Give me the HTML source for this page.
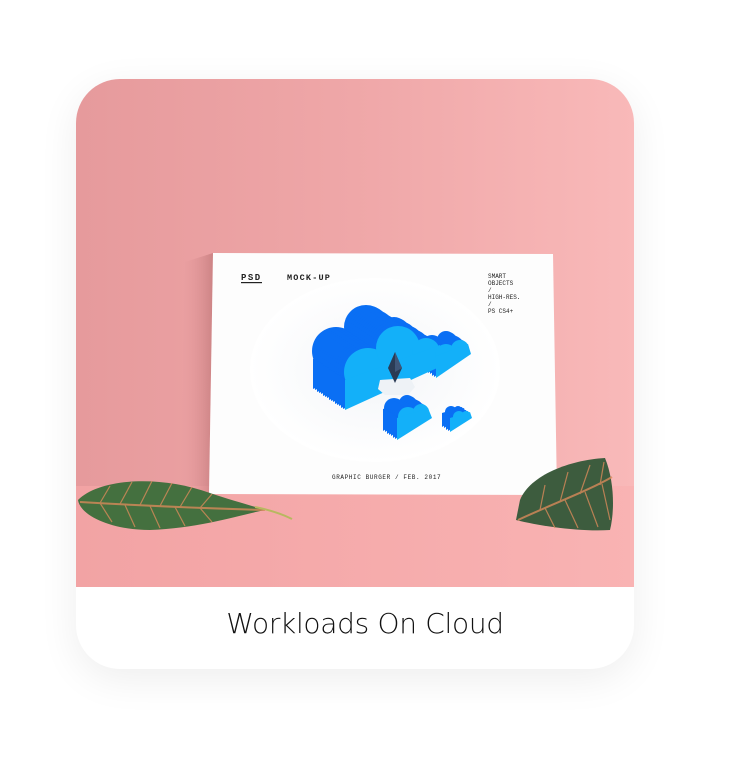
<!DOCTYPE html>
<html><head><meta charset="utf-8"><style>
html,body{margin:0;padding:0;background:#fff;width:751px;height:783px;overflow:hidden}
.card{position:absolute;left:76px;top:79px;width:558px;height:590px;border-radius:44px;background:#fff;overflow:hidden;box-shadow:0 10px 40px rgba(0,0,0,0.07)}
.cap{position:absolute;left:10px;top:504px;width:558px;height:82px;text-align:center;font:28px/82px "DejaVu Sans","Liberation Sans",sans-serif;font-weight:200;color:#111;letter-spacing:-0.3px}
</style></head><body>
<div class="card">
<svg width="558" height="508" viewBox="76 79 558 508" style="position:absolute;left:0;top:0">
<defs>
<linearGradient id="wall" x1="0" x2="1"><stop offset="0" stop-color="#e69a9c"/><stop offset="0.5" stop-color="#efa7a8"/><stop offset="1" stop-color="#f9b9b9"/></linearGradient>
<linearGradient id="floor" x1="0" x2="1"><stop offset="0" stop-color="#f2a3a4"/><stop offset="1" stop-color="#f9b3b3"/></linearGradient>
<radialGradient id="glow" cx="0.5" cy="0.5" r="0.5"><stop offset="0" stop-color="#f3f5f8"/><stop offset="1" stop-color="#ffffff"/></radialGradient>
<linearGradient id="sh" x1="0" x2="1"><stop offset="0" stop-color="#e69a9c" stop-opacity="0"/><stop offset="1" stop-color="#b87072" stop-opacity="0.6"/></linearGradient>
<g id="big"><circle cx="368" cy="372" r="24"/><circle cx="398" cy="348" r="22"/><circle cx="426" cy="352" r="14"/><polygon points="345,410 345,380 440,345 446,364"/></g>
<g id="med"><circle cx="446" cy="355" r="11"/><circle cx="460" cy="349" r="9"/><polygon points="436,378 436,356 468,344 471,354"/></g>
<g id="s1"><circle cx="408" cy="417" r="10"/><circle cx="421" cy="412" r="8"/><polygon points="397,440 397,418 428,408 432,418"/></g>
<g id="s2"><circle cx="459" cy="417" r="6"/><circle cx="466" cy="415" r="4"/><polygon points="450,432 450,418 470,412 472,418"/></g>
</defs>
<rect x="76" y="79" width="558" height="408" fill="url(#wall)"/>
<rect x="76" y="486" width="558" height="101" fill="url(#floor)"/>
<polygon points="185,262 213,253 209,494 180,490" fill="url(#sh)"/>
<polygon points="213,253 553,254 557,495 209,494" fill="#fdfdfd"/>
<ellipse cx="375" cy="370" rx="125" ry="92" fill="url(#glow)"/>
<g font-family="Liberation Mono,monospace" font-weight="bold" fill="#222">
<text x="241" y="280" font-size="9" letter-spacing="1.5">PSD</text>
<rect x="241" y="282" width="21" height="1.2" fill="#222"/>
<text x="287" y="280" font-size="8.5" letter-spacing="1.2">MOCK-UP</text>
<g font-size="6" font-weight="normal"><text x="488" y="278">SMART</text><text x="488" y="285">OBJECTS</text><text x="488" y="292">/</text><text x="488" y="299">HIGH-RES.</text><text x="488" y="306">/</text><text x="488" y="313">PS CS4+</text></g>
<text x="332" y="479" font-size="6" font-weight="normal" letter-spacing="0.6">GRAPHIC BURGER / FEB. 2017</text>
</g>
<g fill="#0a6ff4">
<use href="#big" transform="translate(-32,-21)"/><use href="#big" transform="translate(-30,-20)"/><use href="#big" transform="translate(-28,-18)"/><use href="#big" transform="translate(-26,-17)"/><use href="#big" transform="translate(-24,-16)"/><use href="#big" transform="translate(-22,-14)"/><use href="#big" transform="translate(-20,-13)"/><use href="#big" transform="translate(-18,-12)"/><use href="#big" transform="translate(-16,-10)"/><use href="#big" transform="translate(-14,-9)"/><use href="#big" transform="translate(-12,-8)"/><use href="#big" transform="translate(-10,-6)"/><use href="#big" transform="translate(-8,-5)"/><use href="#big" transform="translate(-6,-4)"/><use href="#big" transform="translate(-4,-2)"/><use href="#big" transform="translate(-2,-1)"/>
<use href="#med" transform="translate(-14,-9)"/><use href="#med" transform="translate(-12,-8)"/><use href="#med" transform="translate(-10,-6)"/><use href="#med" transform="translate(-8,-5)"/><use href="#med" transform="translate(-6,-4)"/><use href="#med" transform="translate(-4,-2)"/><use href="#med" transform="translate(-2,-1)"/>
<use href="#s1" transform="translate(-14,-9)"/><use href="#s1" transform="translate(-12,-8)"/><use href="#s1" transform="translate(-10,-6)"/><use href="#s1" transform="translate(-8,-5)"/><use href="#s1" transform="translate(-6,-4)"/><use href="#s1" transform="translate(-4,-2)"/><use href="#s1" transform="translate(-2,-1)"/>
<use href="#s2" transform="translate(-8,-5)"/><use href="#s2" transform="translate(-6,-4)"/><use href="#s2" transform="translate(-4,-2)"/><use href="#s2" transform="translate(-2,-1)"/>
</g>
<g fill="#13b0f9"><use href="#big"/><use href="#med"/><use href="#s1"/><use href="#s2"/></g>
<polygon points="380,380 410,378 415,387 408,395 385,395 378,389" fill="#eef2f6"/>
<polygon points="395,352 402,368 395,383 388,368" fill="#2a3b55"/>
<polygon points="395,352 402,368 395,372" fill="#3f5678"/>
<path d="M78,500 C100,478 160,475 210,493 C230,500 250,505 265,510 C240,515 200,528 150,530 C110,530 80,515 78,500Z" fill="#44703f"/>
<g stroke="#d88a5a" stroke-width="1.2" fill="none" opacity="0.8">
<path d="M80,502 C130,505 190,508 265,510" stroke-width="2"/>
<path d="M100,503 L110,486 M120,504 L132,482 M140,505 L152,481 M160,506 L172,483 M180,507 L192,487 M200,508 L212,494 M100,503 L112,522 M125,505 L135,527 M150,506 L160,528 M175,507 L185,526 M200,508 L212,522"/>
</g>
<path d="M255,507 C270,510 282,514 292,519" stroke="#b8b860" stroke-width="2" fill="none"/>
<path d="M520,500 C530,475 570,460 605,458 C614,480 615,510 610,530 C580,532 540,526 516,520Z" fill="#3d5c3e"/>
<g stroke="#d88a5a" stroke-width="1.2" fill="none" opacity="0.8">
<path d="M518,520 C550,505 590,490 612,477" stroke-width="2"/>
<path d="M540,510 L545,485 M560,502 L568,472 M580,494 L590,465 M600,485 L604,462 M545,508 L555,528 M565,500 L578,528 M585,492 L598,527 M602,484 L610,520"/>
</g>
</svg>
<div class="cap">Workloads On Cloud</div>
</div>
</body></html>
